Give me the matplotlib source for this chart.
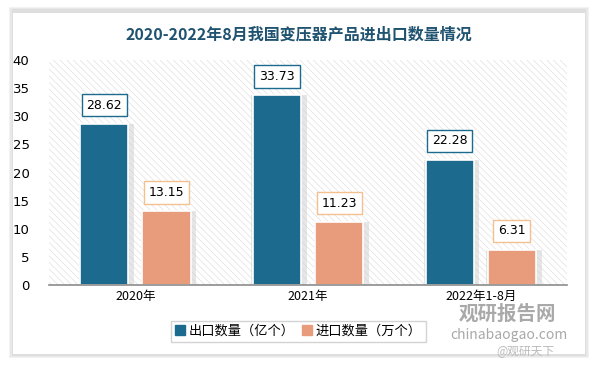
import matplotlib
matplotlib.use("Agg")
import matplotlib.pyplot as plt
import matplotlib.patches as mpatches
import numpy as np

plt.rcParams['font.family'] = ['Noto Sans CJK SC', 'DejaVu Sans']
plt.rcParams['hatch.linewidth'] = 0.4

categories = ["2020年", "2021年", "2022年1-8月"]
export_vals = [28.62, 33.73, 22.28]
import_vals = [13.15, 11.23, 6.31]
series_names = ["出口数量（亿个）", "进口数量（万个）"]
title = "2020-2022年8月我国变压器产品进出口数量情况"

blue = "#1c6b8f"
salmon = "#e89c7c"

fig = plt.figure(figsize=(5.97, 3.65), dpi=100)
fig.patch.set_facecolor("white")

# card with soft shadow
for i, c in enumerate(["#f2f2f2", "#e8e8e8", "#dedede"]):
    p = 0.012 - i * 0.004
    fig.patches.append(mpatches.Rectangle((0.022 - p * 0.6, 0.03 - p), 0.958 + p * 1.2, 0.94 + p * 2,
                                          transform=fig.transFigure, facecolor=c,
                                          edgecolor="none", zorder=-3 + i * 0.1))
fig.patches.append(mpatches.Rectangle((0.022, 0.03), 0.958, 0.935, transform=fig.transFigure,
                                      facecolor="white", edgecolor="none", zorder=-2))

fig.text(0.5, 0.905, title, ha="center", va="center", fontsize=11.5,
         fontweight="bold", color="#1f5370")

ax = fig.add_axes([0.082, 0.218, 0.868, 0.618])
ax.set_facecolor("none")
# hatched background
bg = mpatches.Rectangle((0, 0), 1, 1, transform=ax.transAxes, facecolor="white",
                        edgecolor="#dadada", hatch="\\\\\\\\\\", linewidth=0, zorder=0)
ax.add_patch(bg)

x = np.arange(len(categories))
w = 0.28
off = 0.18
for vals, dx, col, edge in [(export_vals, -off, blue, blue), (import_vals, off, salmon, "#f5c090")]:
    # soft shadow behind bars
    ax.bar(x + dx + 0.012, vals, w + 0.04, color="#cfcfcf", alpha=0.5, zorder=1)
    ax.bar(x + dx, vals, w, color=col, edgecolor="white", linewidth=1.2, zorder=2)
    for xi, v in zip(x + dx, vals):
        ax.text(xi, v + 2.2, f"{v:.2f}", ha="center", va="bottom", fontsize=9,
                family=["DejaVu Sans"], color="black", zorder=4,
                bbox=dict(boxstyle="square,pad=0.38", facecolor="white", edgecolor=edge, linewidth=1))

ax.set_xlim(-0.5, 2.5)
ax.set_ylim(0, 40)
ax.set_yticks(range(0, 41, 5))
ax.set_xticks(x)
ax.set_xticklabels(categories, fontsize=8.5)
ax.tick_params(axis="both", length=0, labelsize=9)
ax.tick_params(axis="y", pad=14)
for lbl in ax.get_yticklabels():
    lbl.set_fontfamily(["DejaVu Sans"])
    lbl.set_fontsize(9.5)
for s in ["top", "right", "left"]:
    ax.spines[s].set_visible(False)
ax.spines["bottom"].set_color("#8c8c8c")
ax.spines["bottom"].set_linewidth(1.2)

handles = [mpatches.Patch(color=blue), mpatches.Patch(color=salmon)]
leg = fig.legend(handles, series_names, loc="center", bbox_to_anchor=(0.5, 0.093), ncol=2,
                 frameon=True, fontsize=9.5, handlelength=0.7, handleheight=0.7,
                 handletextpad=0.3, columnspacing=0.6, borderpad=0.3, fancybox=False)
leg.get_frame().set_edgecolor("#c8c8c8")
leg.get_frame().set_linewidth(1)

# watermark
fig.text(0.85, 0.14, "观研报告网", ha="center", va="center", fontsize=14,
         fontweight="bold", color="#9a9a9a", alpha=0.85, zorder=5)
fig.text(0.852, 0.083, "chinabaogao.com", ha="center", va="center", fontsize=10,
         color="#9a9a9a", alpha=0.85, zorder=5)
fig.text(0.88, 0.037, "@观研天下", ha="center", va="center", fontsize=8.5,
         color="#bbbbbb", zorder=5)

fig.savefig("out.png", dpi=100, facecolor="white")
